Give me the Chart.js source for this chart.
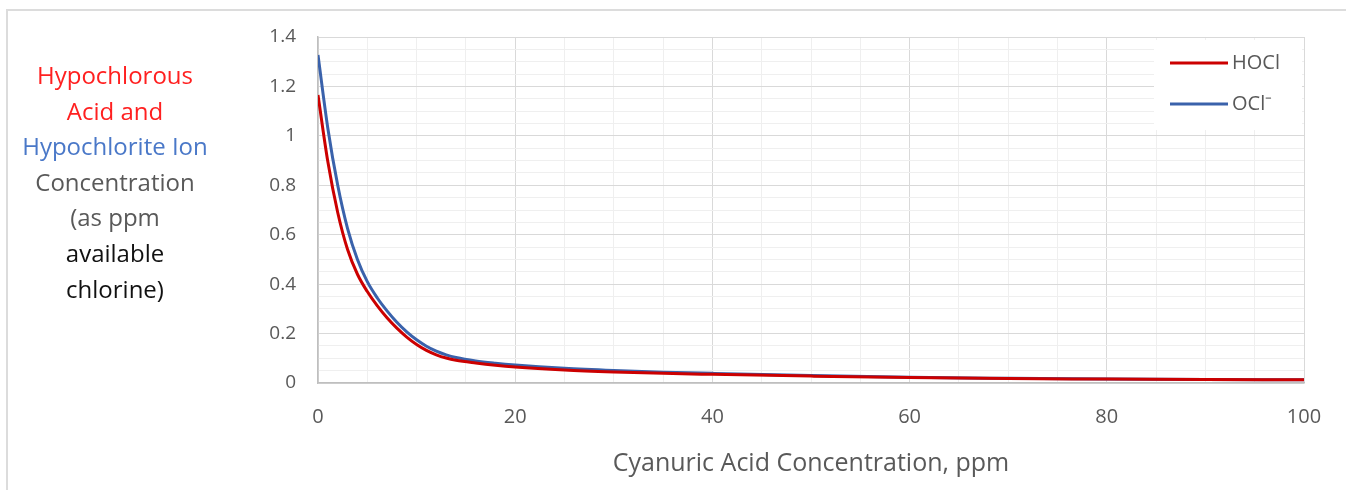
<!DOCTYPE html>
<html>
<head>
<meta charset="utf-8">
<script src="https://cdn.jsdelivr.net/npm/chart.js@4"></script>
<style>
  html, body { margin: 0; padding: 0; background: #fff; }
  #wrap { position: relative; width: 1346px; height: 490px; }
  #frame { position: absolute; left: 6px; top: 9px; right: 0; bottom: 0;
           border-left: 2px solid #dcdcdc; border-top: 2px solid #dcdcdc; }
  #ytitle { position: absolute; left: 4px; top: 57px; width: 222px; text-align: center;
            font-family: "Open Sans", sans-serif; font-size: 24px; line-height: 35.6px; }
  canvas { position: absolute; left: 0; top: 0; }
</style>
</head>
<body>
<div id="wrap">
  <div id="frame"></div>
  <canvas id="chart" width="1346" height="490"></canvas>
  <div id="ytitle">
    <div style="color:#ff2020">Hypochlorous</div>
    <div style="color:#ff2020">Acid and</div>
    <div style="color:#4a78c8">Hypochlorite Ion</div>
    <div style="color:#595959">Concentration</div>
    <div style="color:#595959">(as ppm</div>
    <div style="color:#111">available</div>
    <div style="color:#111">chlorine)</div>
  </div>
</div>
<script>
// values
var cyaPpm = [0, 1, 2, 3, 4, 5, 6, 7, 8, 9, 10, 11, 12, 13, 14, 16, 18, 20, 25, 30, 35, 40, 50, 60, 70, 80, 90, 100];
var hoclValues = [1.165, 0.895, 0.69, 0.54, 0.44, 0.37, 0.313, 0.264, 0.222, 0.186, 0.156, 0.132, 0.114, 0.101, 0.092, 0.081, 0.072, 0.065, 0.053, 0.045, 0.039, 0.035, 0.028, 0.022, 0.018, 0.016, 0.014, 0.013];
var oclValues = [1.327, 1.03, 0.80, 0.625, 0.50, 0.41, 0.345, 0.292, 0.246, 0.207, 0.175, 0.149, 0.129, 0.114, 0.103, 0.089, 0.080, 0.073, 0.060, 0.051, 0.044, 0.039, 0.030, 0.023, 0.019, 0.016, 0.014, 0.013];
var seriesNames = ['HOCl', 'OCl\u207B'];
var seriesColors = ['#cc0000', '#3a62ab'];
var xTitle = 'Cyanuric Acid Concentration, ppm';

function toPoints(vals) {
    return cyaPpm.map(function(x, i) { return { x: x, y: vals[i] }; });
}

var fontFamily = '"Open Sans", sans-serif';

// legend box inside the plot, top right
var legendBox = {
    id: 'legendBox',
    beforeDatasetsDraw: function(chart) {
        var ctx = chart.ctx, a = chart.chartArea;
        var left = a.right - 150, top = a.top + 3;
        ctx.save();
        ctx.fillStyle = '#fff';
        ctx.fillRect(left, top, 148, 90);
        ctx.font = '20px ' + fontFamily;
        ctx.textBaseline = 'middle';
        chart.data.datasets.forEach(function(ds, i) {
            var y = top + 23 + i * 41;
            ctx.strokeStyle = ds.borderColor;
            ctx.lineWidth = 3;
            ctx.beginPath();
            ctx.moveTo(left + 16, y);
            ctx.lineTo(left + 74, y);
            ctx.stroke();
            ctx.fillStyle = '#595959';
            ctx.fillText(ds.label, left + 78, y);
        });
        ctx.restore();
    }
};

function isMajor(v, step) {
    return Math.abs(Math.round(v / step) * step - v) < 1e-6;
}

var ctx = document.getElementById('chart').getContext('2d');
new Chart(ctx, {
    type: 'line',
    data: {
        datasets: [{
            label: seriesNames[0],
            data: toPoints(hoclValues),
            borderColor: seriesColors[0],
            borderWidth: 3,
            pointRadius: 0,
            cubicInterpolationMode: 'monotone',
            fill: false
        }, {
            label: seriesNames[1],
            data: toPoints(oclValues),
            borderColor: seriesColors[1],
            borderWidth: 3,
            pointRadius: 0,
            cubicInterpolationMode: 'monotone',
            fill: false
        }]
    },
    options: {
        responsive: false,
        animation: false,
        layout: { padding: { left: 230, right: 42, top: 37, bottom: 0 } },
        plugins: { legend: { display: false }, tooltip: { enabled: false } },
        scales: {
            x: {
                type: 'linear',
                min: 0,
                max: 100,
                afterFit: function(s) { s.height = 107; },
                ticks: {
                    stepSize: 5,
                    autoSkip: false,
                    maxRotation: 0,
                    padding: 22,
                    color: '#595959',
                    font: { family: fontFamily, size: 20 },
                    callback: function(v) { return isMajor(v, 20) ? String(v) : ''; }
                },
                grid: {
                    color: function(c) { return isMajor(c.tick.value, 20) ? '#d9d9d9' : '#efefef'; },
                    drawTicks: false
                },
                border: { color: '#bfbfbf', width: 1.5 },
                title: {
                    display: true,
                    text: xTitle,
                    color: '#595959',
                    font: { family: fontFamily, size: 25 },
                    padding: { top: 2, bottom: 11 }
                }
            },
            y: {
                min: 0,
                max: 1.4,
                afterFit: function(s) { s.width = 88; },
                ticks: {
                    stepSize: 0.05,
                    autoSkip: false,
                    padding: 22,
                    color: '#595959',
                    font: { family: fontFamily, size: 19 },
                    callback: function(v) { return isMajor(v, 0.2) ? String(Number(v.toFixed(2))) : ''; }
                },
                grid: {
                    color: function(c) { return isMajor(c.tick.value, 0.2) ? '#d9d9d9' : '#efefef'; },
                    drawTicks: false
                },
                border: { color: '#bfbfbf', width: 1.5 }
            }
        }
    },
    plugins: [legendBox]
});
</script>
</body>
</html>
